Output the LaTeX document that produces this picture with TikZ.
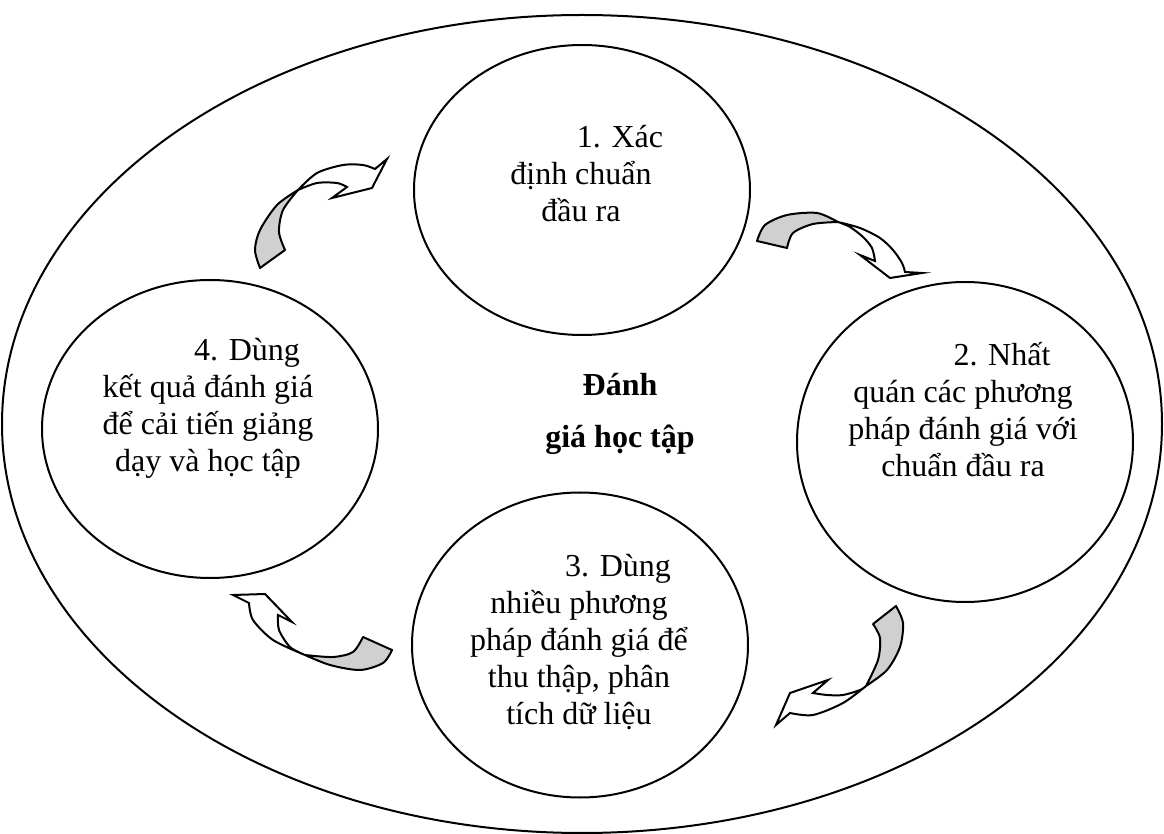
\documentclass[tikz,border=0pt]{standalone}
\usepackage{fontspec}
\setmainfont{Liberation Serif}
\definecolor{ArrowGray}{HTML}{D0D0D0}
\usetikzlibrary{shapes.geometric,positioning}

\begin{document}
\begin{tikzpicture}[x=0.5pt, y=-0.5pt,
    stage/.style={draw, ellipse, line width=1pt, inner sep=0pt, minimum width=168pt},
    stagetext/.style={align=center, font=\fontsize{16}{18.5}\selectfont, inner sep=0pt, anchor=base},
    backface/.style={draw, fill=ArrowGray, line width=1pt, line join=round},
    frontface/.style={draw, fill=white, line width=1pt, line join=miter}
  ]
    \useasboundingbox (0,0) rectangle (1164,834);
    \node[stage, minimum width=580pt, minimum height=409pt] (frame) at (582,424) {};
    \node[stage, minimum height=145pt] (step1) at (582,190) {};
    \node[stage, minimum height=160pt] (step2) at (965,442) {};
    \node[stage, minimum height=152.5pt] (step3) at (580,645) {};
    \node[stage, minimum height=149pt] (step4) at (210,429) {};
    % base anchor = last line
    \node[stagetext] (text1) at (581,222) {\hspace*{39pt}1. Xác\\định chuẩn\\đầu ra};
    \node[stagetext] (text2) at (963,477) {\hspace*{39pt}2. Nhất\\quán các phương\\pháp đánh giá với\\chuẩn đầu ra};
    \node[stagetext] (text3) at (579,725) {\hspace*{39pt}3. Dùng\\nhiều phương\\pháp đánh giá để\\thu thập, phân\\tích dữ liệu};
    \node[stagetext] (text4) at (208,472) {\hspace*{39pt}4. Dùng\\kết quả đánh giá\\để cải tiến giảng\\dạy và học tập};
    \node[align=center, font=\fontsize{16}{26}\selectfont\bfseries, inner sep=0pt, anchor=base] (title) at (620,448) {Đánh\\giá học tập};
    % arrow 4 -> 1
    \path[backface] (260,268) -- plot[smooth] coordinates {(285,250) (279,232) (283,210) (298,190)}
      -- plot[smooth] coordinates {(298,190) (277,205) (260,230) (255,250) (260,268)} -- cycle;
    \path[frontface] (298,190) -- plot[smooth] coordinates {(298,190) (317,173) (343,165) (363,165) (375,169)}
      -- (387,159) -- (372,188) -- (332,198) -- (347,187)
      -- plot[smooth] coordinates {(347,187) (337,183) (317,183) (298,190)} -- cycle;
    % arrow 1 -> 2
    \path[backface] (757,241) -- plot[smooth] coordinates {(787,248) (793,233) (813,224) (838,222)}
      -- plot[smooth] coordinates {(838,222) (817,213) (787,215) (765,225) (757,241)} -- cycle;
    \path[frontface] (838,222) -- plot[smooth] coordinates {(838,222) (860,228) (880,238) (893,250) (902,263) (905,272)}
      -- (922,273) -- (890,278) -- (860,255) -- (875,261)
      -- plot[smooth] coordinates {(875,261) (872,248) (863,237) (850,227) (838,222)} -- cycle;
    % arrow 2 -> 3
    \path[backface] (873,624) -- plot[smooth] coordinates {(896,606) (903,623) (900,647) (887,670) (866,686)}
      -- plot[smooth] coordinates {(866,686) (878,660) (880,638) (873,624)} -- cycle;
    \path[frontface] (866,686) -- plot[smooth] coordinates {(866,686) (843,703) (813,715) (790,713)}
      -- (776,725) -- (790,693) -- (828,680) -- (813,693)
      -- plot[smooth] coordinates {(813,693) (827,695) (843,695) (860,690) (866,686)} -- cycle;
    % arrow 3 -> 4
    \path[backface] (363,637) -- plot[smooth] coordinates {(392,650) (383,663) (360,670) (330,665) (305,655)}
      -- plot[smooth] coordinates {(305,655) (333,657) (353,652) (363,637)} -- cycle;
    \path[frontface] (305,655) -- plot[smooth] coordinates {(305,655) (273,640) (253,620) (249,603)}
      -- (233,595) -- (265,594) -- (292,622) -- (278,615)
      -- plot[smooth] coordinates {(278,615) (279,630) (290,647) (305,655)} -- cycle;
\end{tikzpicture}
\end{document}
